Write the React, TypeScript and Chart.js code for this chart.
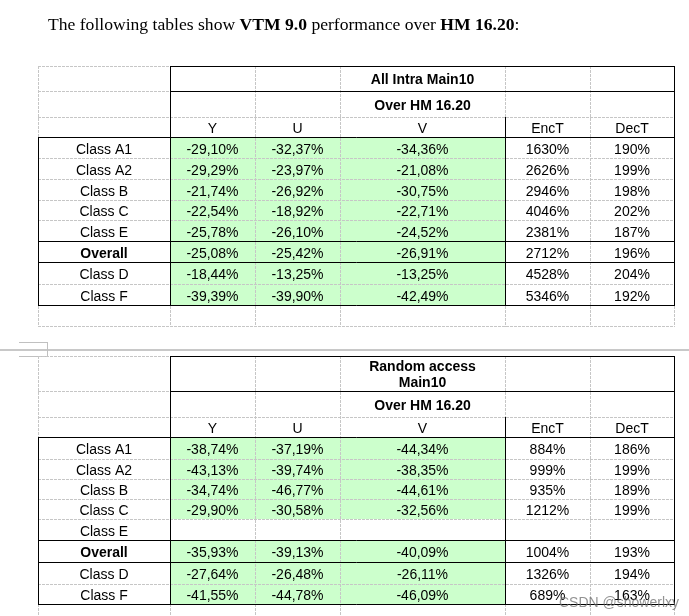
import React, { useEffect, useRef } from "react";
import { Chart, registerables } from "chart.js";
Chart.register(...registerables);

// ---------- data ----------
const titleParts: [string, boolean][] = [
  ["The following tables show ", false],
  ["VTM 9.0", true],
  [" performance over ", false],
  ["HM 16.20", true],
  [":", false],
];
const columnHeaders = ["Y", "U", "V", "EncT", "DecT"];
const rowLabels = ["Class A1", "Class A2", "Class B", "Class C", "Class E", "Overall", "Class D", "Class F"];
const boldRows = ["Overall"];
const anchorLabel = "Over HM 16.20";

const intraTitle = ["All Intra Main10"];
const intraY = [-29.1, -29.29, -21.74, -22.54, -25.78, -25.08, -18.44, -39.39];
const intraU = [-32.37, -23.97, -26.92, -18.92, -26.1, -25.42, -13.25, -39.9];
const intraV = [-34.36, -21.08, -30.75, -22.71, -24.52, -26.91, -13.25, -42.49];
const intraEnc = [1630, 2626, 2946, 4046, 2381, 2712, 4528, 5346];
const intraDec = [190, 199, 198, 202, 187, 196, 204, 192];

const raTitle = ["Random access", "Main10"];
const raY = [-38.74, -43.13, -34.74, -29.9, null, -35.93, -27.64, -41.55];
const raU = [-37.19, -39.74, -46.77, -30.58, null, -39.13, -26.48, -44.78];
const raV = [-44.34, -38.35, -44.61, -32.56, null, -40.09, -26.11, -46.09];
const raEnc = [884, 999, 935, 1212, null, 1004, 1326, 689];
const raDec = [186, 199, 189, 199, null, 193, 194, 163];

const watermark = "CSDN @showerlxy";

// ---------- layout (not data) ----------
const W = 689;
const H = 616;
const COL_EDGES = [38, 170, 255, 340, 505, 590, 674];
const INTRA_ROWS = [66, 91, 117, 137, 158, 179, 200, 220, 241, 262, 284, 305, 326];
const RA_ROWS = [356, 391, 417, 437, 459, 479, 499, 519, 540, 562, 584, 604, 626];
const GREEN = "#ccffcc";
const GRID = "#c6c6c6";
const SANS = "'Liberation Sans', Arial, sans-serif";
const SERIF = "'Liberation Serif', 'Times New Roman', serif";

type Num = number | null;
interface TableSpec {
  rows: number[];
  title: string[];
  cols: Num[][];
}

const tables: TableSpec[] = [
  { rows: INTRA_ROWS, title: intraTitle, cols: [intraY, intraU, intraV, intraEnc, intraDec] },
  { rows: RA_ROWS, title: raTitle, cols: [raY, raU, raV, raEnc, raDec] },
];

const fmtPct = (v: number) => v.toFixed(2).replace(".", ",") + "%";
const fmtInt = (v: number) => String(v) + "%";

const tablePlugin = {
  id: "tablePlugin",
  afterDraw(chart: any) {
    const ctx: CanvasRenderingContext2D = chart.ctx;
    const xs = chart.scales.x;
    const ys = chart.scales.y;
    const px = (v: number) => xs.getPixelForValue(v);
    const py = (v: number) => ys.getPixelForValue(v);
    const cx = (v: number) => Math.round(px(v)) + 0.5;
    const cy = (v: number) => Math.round(py(v)) + 0.5;

    ctx.save();
    ctx.fillStyle = "#ffffff";
    ctx.fillRect(0, 0, chart.width, chart.height);

    const hline = (y: number, x1: number, x2: number) => {
      ctx.beginPath();
      ctx.moveTo(Math.round(px(x1)), cy(y));
      ctx.lineTo(Math.round(px(x2)) + 1, cy(y));
      ctx.stroke();
    };
    const vline = (x: number, y1: number, y2: number) => {
      ctx.beginPath();
      ctx.moveTo(cx(x), Math.round(py(y1)));
      ctx.lineTo(cx(x), Math.round(py(y2)) + 1);
      ctx.stroke();
    };

    // Title
    ctx.fillStyle = "#000";
    ctx.textBaseline = "alphabetic";
    ctx.textAlign = "left";
    let tx = px(48);
    for (const [t, b] of titleParts) {
      ctx.font = (b ? "bold " : "") + "17.6px " + SERIF;
      ctx.fillText(t, tx, py(30));
      tx += ctx.measureText(t).width;
    }

    // page separator / anchor mark
    ctx.strokeStyle = "#c8c8c8";
    ctx.lineWidth = 2;
    ctx.beginPath();
    ctx.moveTo(0, py(350));
    ctx.lineTo(chart.width, py(350));
    ctx.stroke();
    ctx.lineWidth = 1;
    ctx.strokeStyle = "#c0c0c0";
    hline(342, 19, 47);
    vline(47, 342, 356);
    hline(356, 19, 47);

    for (const tb of tables) {
      const R = tb.rows;
      const C = COL_EDGES;
      const left = C[0];
      const right = C[C.length - 1];
      // green fill
      ctx.fillStyle = GREEN;
      for (let r = 0; r < rowLabels.length; r++) {
        const y1 = R[r + 3];
        const y2 = R[r + 4];
        for (let c = 0; c < 3; c++) {
          if (tb.cols[c][r] === null) continue;
          ctx.fillRect(px(C[c + 1]), py(y1), px(C[c + 2]) - px(C[c + 1]), py(y2) - py(y1));
        }
      }
      // dashed grid
      ctx.strokeStyle = GRID;
      ctx.lineWidth = 1;
      ctx.setLineDash([3, 1]);
      for (const y of R) hline(y, left, right);
      for (const x of C) vline(x, R[0], R[R.length - 1]);
      ctx.setLineDash([]);
      // solid borders
      ctx.strokeStyle = "#000";
      hline(R[0], C[1], right);
      hline(R[1], C[1], right);
      hline(R[3], left, right);
      hline(R[8], left, right);
      hline(R[9], left, right);
      hline(R[11], left, right);
      vline(C[1], R[0], R[11]);
      vline(right, R[0], R[11]);
      vline(left, R[3], R[11]);
      vline(C[4], R[2], R[11]);

      // texts
      ctx.fillStyle = "#000";
      ctx.textAlign = "center";
      ctx.textBaseline = "alphabetic";
      const vCenter = (px(C[3]) + px(C[4])) / 2;
      ctx.font = "bold 14px " + SANS;
      const mid0 = (py(R[0]) + py(R[1])) / 2;
      if (tb.title.length === 1) {
        ctx.fillText(tb.title[0], vCenter, mid0 + 5.5);
      } else {
        ctx.fillText(tb.title[0], vCenter, mid0 - 2.5);
        ctx.fillText(tb.title[1], vCenter, mid0 + 13.5);
      }
      const mid1 = (py(R[1]) + py(R[2])) / 2;
      ctx.fillText(anchorLabel, vCenter, mid1 + 5.5);
      ctx.font = "14px " + SANS;
      const mid2 = (py(R[2]) + py(R[3])) / 2;
      columnHeaders.forEach((h, i) => {
        ctx.fillText(h, (px(C[i + 1]) + px(C[i + 2])) / 2, mid2 + 5.5);
      });
      rowLabels.forEach((lab, r) => {
        const mid = (py(R[r + 3]) + py(R[r + 4])) / 2 + 6;
        ctx.font = (boldRows.includes(lab) ? "bold " : "") + "14px " + SANS;
        ctx.fillText(lab, (px(C[0]) + px(C[1])) / 2, mid);
        ctx.font = "14px " + SANS;
        tb.cols.forEach((col, c) => {
          const v = col[r];
          if (v === null) return;
          const s = c < 3 ? fmtPct(v) : fmtInt(v);
          ctx.fillText(s, (px(C[c + 1]) + px(C[c + 2])) / 2, mid);
        });
      });
    }

    // watermark
    ctx.textAlign = "left";
    ctx.font = "14px " + SANS;
    ctx.fillStyle = "rgba(110,110,110,0.75)";
    ctx.fillText(watermark, px(559), py(607));
    ctx.restore();
  },
};

export default function App() {
  const ref = useRef<HTMLCanvasElement>(null);
  useEffect(() => {
    if (!ref.current) return;
    const chart = new Chart(ref.current, {
      type: "scatter",
      data: { datasets: [] },
      options: {
        animation: false,
        responsive: false,
        devicePixelRatio: 1,
        layout: { padding: 0 },
        plugins: { legend: { display: false }, tooltip: { enabled: false } },
        scales: {
          x: { type: "linear", min: 0, max: W, display: false },
          y: { type: "linear", min: 0, max: H, reverse: true, display: false },
        },
      },
      plugins: [tablePlugin],
    });
    return () => chart.destroy();
  }, []);
  return (
    <div style={{ position: "absolute", left: 0, top: 0, width: W, height: H, background: "#fff" }}>
      <canvas ref={ref} width={W} height={H} style={{ width: W, height: H, display: "block" }} />
    </div>
  );
}
